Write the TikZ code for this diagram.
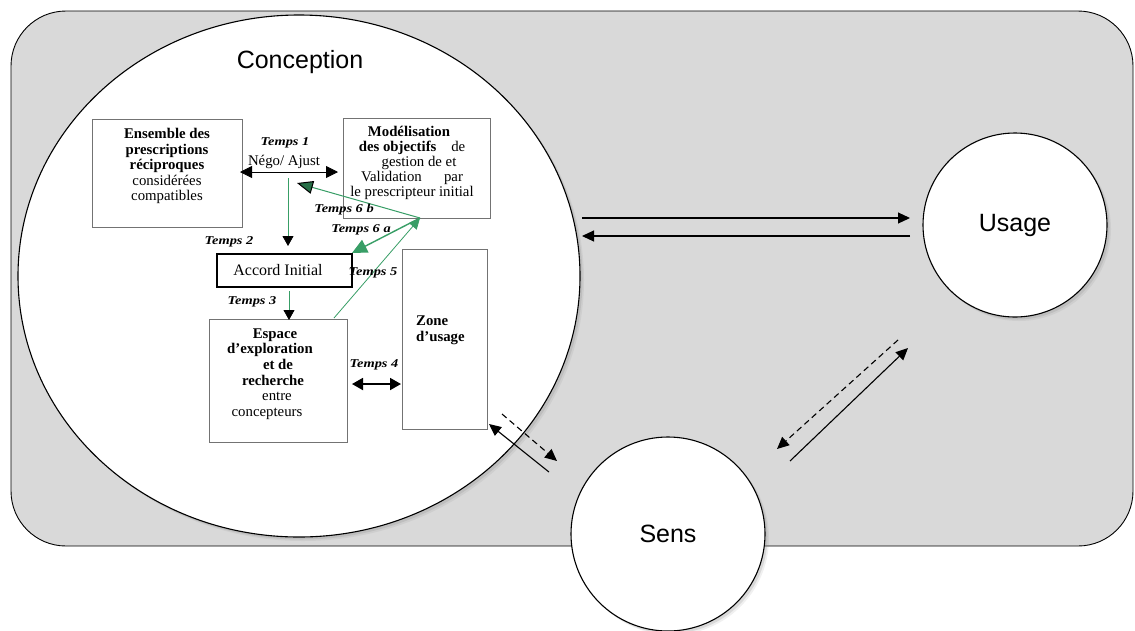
\documentclass[tikz,border=0pt]{standalone}
\usepackage{fontspec}
\setmainfont{Liberation Serif}
\newfontfamily\arialfont{Liberation Sans}
\newfontfamily\tempsfont[FakeStretch=1.2]{Liberation Serif}
\usetikzlibrary{arrows.meta,shapes.geometric,shadows}
\definecolor{bggray}{RGB}{217,217,217}
\definecolor{grn}{RGB}{56,158,102}
\definecolor{boxgray}{RGB}{115,115,115}
\begin{document}
\begin{tikzpicture}[x=1pt,y=-1pt,
  softshadow/.style={drop shadow={opacity=0.12,shadow xshift=4pt,shadow yshift=-4pt},
                     drop shadow={opacity=0.2,shadow xshift=2.5pt,shadow yshift=-2.5pt}},
  bigcirc/.style={circle,draw=black,line width=1.1pt,fill=white,inner sep=0pt,softshadow,
                  font=\arialfont\fontsize{25}{30}\selectfont},
  graybox/.style={draw=boxgray,line width=0.8pt,fill=white,inner sep=0pt},
  bodytxt/.style={font=\fontsize{14.8}{15.5}\selectfont,align=center,inner sep=0pt},
  tlabel/.style={font=\tempsfont\bfseries\itshape\fontsize{12}{14}\selectfont,inner sep=0pt},
  blkarr/.style={line width=1.1pt,-{Triangle[length=12pt,width=11pt]}},
  blkdash/.style={line width=1.1pt,dash pattern=on 6pt off 4pt,-{Triangle[length=12pt,width=11pt]}},
  grnline/.style={draw=grn,line width=0.8pt},
  blktip/.style={-{Triangle[length=10pt,width=11pt,color=black]}}
]
\useasboundingbox (0,0) rectangle (1135,630);

% frame
\node (frame) [draw=black,line width=0.9pt,fill=bggray,rounded corners=55pt,
  minimum width=1122pt,minimum height=535pt,inner sep=0pt] at (572,278.5) {};

% conception ellipse
\node (conc) [ellipse,draw=black,line width=1.1pt,fill=white,inner sep=0pt,softshadow,
  minimum width=562pt,minimum height=522pt] at (299,276) {};
\node (concT) [font=\arialfont\fontsize{25}{30}\selectfont] at (300,62) {Conception};

% usage / sens
\node (usage) [bigcirc,minimum size=184pt] at (1015,225) {Usage};
\node (sens) [bigcirc,minimum size=194pt] at (668,534) {Sens};

% boxes
\node (ens) [graybox,minimum width=150pt,minimum height=108pt] at (167,173) {};
\node (ensT) [bodytxt] at (167,166) {\textbf{Ensemble des}\\\textbf{prescriptions}\\\textbf{réciproques}\\considérées\\compatibles};

\node (mod) [graybox,minimum width=147pt,minimum height=100pt] at (416.5,168) {};
\node (modT) [bodytxt,font=\fontsize{14.8}{15}\selectfont] at (412,163) {\hspace*{-6pt}\textbf{Modélisation}\\\textbf{des objectifs}\quad de\\\hspace*{14pt}gestion de et\\Validation\quad\ \ par\\le prescripteur initial};

\node (acc) [draw=black,line width=1.4pt,fill=white,minimum width=135pt,minimum height=33pt,inner sep=0pt] at (284.5,270.5) {};
\node (accT) [bodytxt,font=\fontsize{16}{17}\selectfont] at (278,270) {Accord Initial};

\node (esp) [graybox,minimum width=138pt,minimum height=123pt] at (278,380.5) {};
\node (espT) [bodytxt,font=\fontsize{14.8}{15.6}\selectfont] at (273,374) {\hspace*{4pt}\textbf{Espace}\\\hspace*{-6pt}\textbf{d’exploration}\\\hspace*{10pt}\textbf{et de}\\\textbf{recherche}\\\hspace*{8pt}entre\\\hspace*{-12pt}concepteurs};

\node (zone) [graybox,minimum width=85pt,minimum height=180pt] at (444.5,339) {};
\node (zoneT) [bodytxt,align=left,anchor=west] at (416,330.5) {\textbf{Zone}\\\textbf{d’usage}};

% Temps 1
\coordinate (t1a) at (240,172);
\coordinate (t1b) at (338,172);
\draw[line width=0.8pt,{Triangle[length=12pt,width=12pt]}-{Triangle[length=12pt,width=12pt]}] (t1a) -- (t1b);
\node (t1L) [tlabel] at (285,143) {Temps 1};
\node (nego) [bodytxt] at (284,162) {Négo/ Ajust};

% Temps 2
\coordinate (t2a) at (288,178);
\coordinate (t2b) at (288,246);
\draw[grnline,blktip] (t2a) -- (t2b);
\node (t2L) [tlabel] at (229,242) {Temps 2};

% Temps 3
\coordinate (t3a) at (289,291);
\coordinate (t3b) at (289,320);
\draw[grnline,blktip] (t3a) -- (t3b);
\node (t3L) [tlabel] at (252,302) {Temps 3};

% Temps 4
\coordinate (t4a) at (352,384);
\coordinate (t4b) at (401,384);
\draw[line width=1.8pt,{Triangle[length=11pt,width=12pt]}-{Triangle[length=11pt,width=12pt]}] (t4a) -- (t4b);
\node (t4L) [tlabel] at (374,365) {Temps 4};

% Temps 5, 6a, 6b
\coordinate (hub) at (420,218);
\coordinate (t5a) at (334,318);
\coordinate (t6a) at (352,253);
\coordinate (t6b) at (297,183);
\draw[grnline,-{Triangle[length=11pt,width=10pt,color=grn]}] (t5a) -- (hub);
\draw[grnline,line width=1.4pt,-{Triangle[length=15pt,width=14pt,color=grn]}] (hub) -- (t6a);
\draw[grnline,line width=1pt,-{Triangle[length=16pt,width=13pt,color=black,fill=grn!70!black]}] (hub) -- (t6b);
\node (t5L) [tlabel] at (373,273) {Temps 5};
\node (t6aL) [tlabel] at (361,230) {Temps 6 a};
\node (t6bL) [tlabel] at (344,210) {Temps 6 b};

% conception <-> usage
\coordinate (cu1) at (582,218);
\coordinate (uc1) at (910,218);
\coordinate (uc2) at (910,236);
\coordinate (cu2) at (582,236);
\draw[blkarr] (cu1) -- (uc1);
\draw[blkarr] (uc2) -- (cu2);

% sens <-> usage
\coordinate (su1) at (790,461);
\coordinate (us1) at (908,348);
\coordinate (us2) at (898,340);
\coordinate (su2) at (777,449);
\draw[blkarr] (su1) -- (us1);
\draw[blkdash] (us2) -- (su2);

% sens <-> conception
\coordinate (sc1) at (549,472);
\coordinate (cs1) at (489,424);
\coordinate (cs2) at (502,414);
\coordinate (sc2) at (557,461);
\draw[blkarr] (sc1) -- (cs1);
\draw[blkdash] (cs2) -- (sc2);
\end{tikzpicture}
\end{document}
